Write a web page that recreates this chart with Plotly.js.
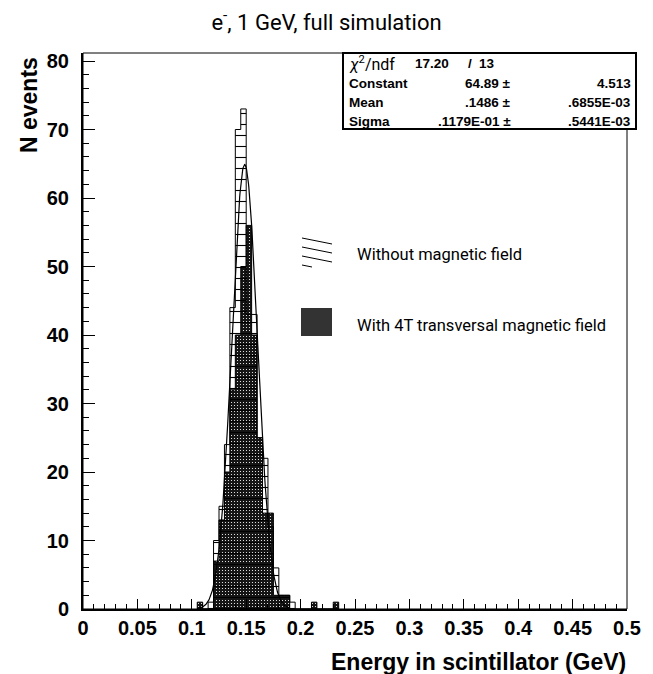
<!DOCTYPE html>
<html>
<head>
<meta charset="utf-8">
<script src="https://cdn.plot.ly/plotly-3.0.1.min.js"></script>
<style>
  html, body { margin: 0; padding: 0; background: #ffffff; }
  #chart { width: 653px; height: 674px; }
</style>
</head>
<body>
<div id="chart"></div>
<script>
// Energy deposited in the scintillator, 1 GeV electrons, bins of 5 MeV
const binWidth = 0.005;
const binLow = [0.105, 0.110, 0.115, 0.120, 0.125, 0.130, 0.135, 0.140, 0.145,
                0.150, 0.155, 0.160, 0.165, 0.170, 0.175, 0.180, 0.185, 0.190,
                0.195, 0.200, 0.205, 0.210, 0.215, 0.220, 0.225, 0.230];
// events per bin, no magnetic field
const countsNoField = [0, 0, 1, 10, 15, 24, 44, 70, 73,
                       43, 43, 25, 22, 12, 6, 2, 2, 1,
                       0, 0, 0, 0, 0, 0, 0, 0];
// events per bin, 4 T transversal field
const counts4T = [1, 0, 0, 7, 13, 20, 32, 40, 50,
                  56, 40, 25, 14, 14, 2, 2, 2, 0,
                  0, 0, 0, 1, 0, 0, 0, 1];

// Gaussian fit to the no-field histogram
const fitConstant = 64.89;
const fitMean = 0.1486;
const fitSigma = 0.01179;
const fitRange = [0.105, 0.19];

const statsLabels = ['Constant', 'Mean', 'Sigma'];
const statsValues = ['64.89', '.1486', '.1179E-01'];
const statsErrors = ['4.513', '.6855E-03', '.5441E-03'];
const chi2Text = '17.20';
const ndfText = '13';

const xTicks = [0, 0.05, 0.1, 0.15, 0.2, 0.25, 0.3, 0.35, 0.4, 0.45, 0.5];
const xTickText = ['0', '0.05', '0.1', '0.15', '0.2', '0.25', '0.3', '0.35', '0.4', '0.45', '0.5'];
const yTicks = [0, 10, 20, 30, 40, 50, 60, 70, 80];

// plot frame in page pixels
const L = 83, R = 627, T = 53, B = 609;
const px = x => (x - L) / (R - L);
const py = y => (B - y) / (B - T);

// histogram outline as a step path over the bin edges
function stepPath(lows, counts) {
  const xs = [lows[0]], ys = [0];
  for (let i = 0; i < lows.length; i++) { xs.push(lows[i]); ys.push(counts[i]); }
  xs.push(lows[lows.length - 1] + binWidth); ys.push(0);
  return { x: xs, y: ys };
}
const step4T = stepPath(binLow, counts4T);
const stepNoField = stepPath(binLow, countsNoField);

const fitX = [];
const fitY = [];
const nSamples = 240;
for (let i = 0; i <= nSamples; i++) {
  const x = fitRange[0] + (fitRange[1] - fitRange[0]) * i / nSamples;
  fitX.push(x);
  fitY.push(fitConstant * Math.exp(-0.5 * Math.pow((x - fitMean) / fitSigma, 2)));
}

const boldFont = 'Liberation Sans, Arial, sans-serif';
const roundFont = 'Roboto, DejaVu Sans, sans-serif';

const traces = [
  {
    type: 'scatter', mode: 'lines', name: 'With 4T transversal magnetic field',
    x: step4T.x, y: step4T.y,
    line: { color: '#000', width: 1, shape: 'hv' },
    fill: 'tozeroy', fillcolor: '#222222',
    fillpattern: { shape: '.', fillmode: 'replace', bgcolor: '#151515', fgcolor: '#ffffff', size: 3, solidity: 0.12 },
    showlegend: false, hoverinfo: 'skip'
  },
  {
    type: 'scatter', mode: 'lines', name: 'Without magnetic field',
    x: stepNoField.x, y: stepNoField.y,
    line: { color: '#000', width: 1, shape: 'hv' },
    fill: 'tozeroy', fillcolor: 'rgba(0,0,0,0)',
    fillpattern: { shape: '-', fillmode: 'replace', bgcolor: 'rgba(0,0,0,0)', fgcolor: '#000000', size: 11, solidity: 0.1 },
    showlegend: false, hoverinfo: 'skip'
  },
  {
    type: 'scatter', mode: 'lines', name: 'Gaussian fit',
    x: fitX, y: fitY,
    line: { color: '#000', width: 1.2 },
    showlegend: false, hoverinfo: 'skip'
  }
];

const annotations = [];
const shapes = [];

// axis titles
annotations.push({
  xref: 'paper', yref: 'paper', x: px(29), y: py(105), text: 'N events',
  textangle: -90, showarrow: false, xanchor: 'center', yanchor: 'middle',
  font: { family: boldFont, size: 23, color: '#000', weight: 'bold' }
});
annotations.push({
  xref: 'paper', yref: 'paper', x: px(628), y: py(662), text: 'Energy in scintillator (GeV)',
  showarrow: false, xanchor: 'right', yanchor: 'middle',
  font: { family: boldFont, size: 23, color: '#000', weight: 'bold' }
});

// frame around the plot area
shapes.push({ type: 'rect', xref: 'paper', yref: 'paper', x0: 0, x1: 1, y0: 0, y1: 1,
  line: { color: '#000', width: 1 }, fillcolor: 'rgba(0,0,0,0)', layer: 'above' });

// fit statistics box
const boxL = 343, boxR = 636, boxT = 53, boxB = 129;
shapes.push({ type: 'rect', xref: 'paper', yref: 'paper',
  x0: px(boxL), x1: px(boxR), y0: py(boxB), y1: py(boxT),
  line: { color: '#000', width: 2 }, fillcolor: '#ffffff', layer: 'above' });
const statFont = { family: boldFont, size: 13.5, color: '#000', weight: 'bold' };
const rowY = [63, 83, 102, 121];
annotations.push({ xref: 'paper', yref: 'paper', x: px(347), y: py(rowY[0]), xanchor: 'left', yanchor: 'middle',
  text: '<i>χ</i><sup>2</sup>/ndf', showarrow: false,
  font: { family: roundFont, size: 16, color: '#000' } });
annotations.push({ xref: 'paper', yref: 'paper', x: px(451), y: py(rowY[0]), xanchor: 'right', yanchor: 'middle',
  text: chi2Text, showarrow: false, font: statFont });
annotations.push({ xref: 'paper', yref: 'paper', x: px(470), y: py(rowY[0]), xanchor: 'center', yanchor: 'middle',
  text: '/', showarrow: false, font: statFont });
annotations.push({ xref: 'paper', yref: 'paper', x: px(497), y: py(rowY[0]), xanchor: 'right', yanchor: 'middle',
  text: ndfText, showarrow: false, font: statFont });
for (let i = 0; i < statsLabels.length; i++) {
  const y = py(rowY[i + 1]);
  annotations.push({ xref: 'paper', yref: 'paper', x: px(347), y: y, xanchor: 'left', yanchor: 'middle',
    text: statsLabels[i], showarrow: false, font: statFont });
  annotations.push({ xref: 'paper', yref: 'paper', x: px(513), y: y, xanchor: 'right', yanchor: 'middle',
    text: statsValues[i] + ' ±', showarrow: false, font: statFont, align: 'right' });
  annotations.push({ xref: 'paper', yref: 'paper', x: px(633), y: y, xanchor: 'right', yanchor: 'middle',
    text: statsErrors[i], showarrow: false, font: statFont });
}

// legend: hatched swatch and dotted swatch with labels
const hatchLines = [[302, 238, 332, 244], [302, 247, 332, 253], [302, 256, 332, 262], [302, 265, 312, 267]];
hatchLines.forEach(l => shapes.push({ type: 'line', xref: 'paper', yref: 'paper',
  x0: px(l[0]), y0: py(l[1]), x1: px(l[2]), y1: py(l[3]), line: { color: '#000', width: 1 } }));
shapes.push({ type: 'rect', xref: 'paper', yref: 'paper',
  x0: px(301), x1: px(332), y0: py(336), y1: py(308),
  line: { width: 0 }, fillcolor: '#333333' });
const legendFont = { family: roundFont, size: 16.5, color: '#000' };
annotations.push({ xref: 'paper', yref: 'paper', x: px(355), y: py(255), xanchor: 'left', yanchor: 'middle',
  text: 'Without magnetic field', showarrow: false, font: legendFont });
annotations.push({ xref: 'paper', yref: 'paper', x: px(355), y: py(325), xanchor: 'left', yanchor: 'middle',
  text: 'With 4T transversal magnetic field', showarrow: false, font: legendFont });

const layout = {
  width: 653, height: 674,
  margin: { l: L, r: 653 - R, t: T, b: 674 - B, pad: 0 },
  paper_bgcolor: '#ffffff', plot_bgcolor: '#ffffff',
  showlegend: false,
  title: { text: 'e<sup>-</sup>, 1 GeV, full simulation', x: 0.5, xref: 'container', xanchor: 'center',
           y: 1 - 22 / 674, yanchor: 'middle', yref: 'container',
           font: { family: roundFont, size: 22, color: '#000' } },
  xaxis: {
    range: [0, 0.5], tickvals: xTicks, ticktext: xTickText,
    ticks: 'inside', ticklen: 10, tickwidth: 1, tickcolor: '#000',
    minor: { dtick: 0.01, tick0: 0, ticks: 'inside', ticklen: 5, tickwidth: 1, tickcolor: '#000' },
    showline: true, linewidth: 2, linecolor: '#000', mirror: false,
    showgrid: false, zeroline: false,
    tickfont: { family: boldFont, size: 20, color: '#000', weight: 'bold' },
    ticklabelstandoff: 0
  },
  yaxis: {
    range: [0, (B - T) / ((B - 61) / 80)], tickvals: yTicks,
    ticks: 'inside', ticklen: 12, tickwidth: 1, tickcolor: '#000',
    minor: { dtick: 2, tick0: 0, ticks: 'inside', ticklen: 6, tickwidth: 1, tickcolor: '#000' },
    showline: true, linewidth: 2, linecolor: '#000', mirror: false,
    showgrid: false, zeroline: false,
    tickfont: { family: boldFont, size: 20, color: '#000', weight: 'bold' },
    ticklabelstandoff: 8
  },
  shapes: shapes,
  annotations: annotations
};

Plotly.newPlot('chart', traces, layout, { staticPlot: true, displayModeBar: false });
</script>
</body>
</html>
